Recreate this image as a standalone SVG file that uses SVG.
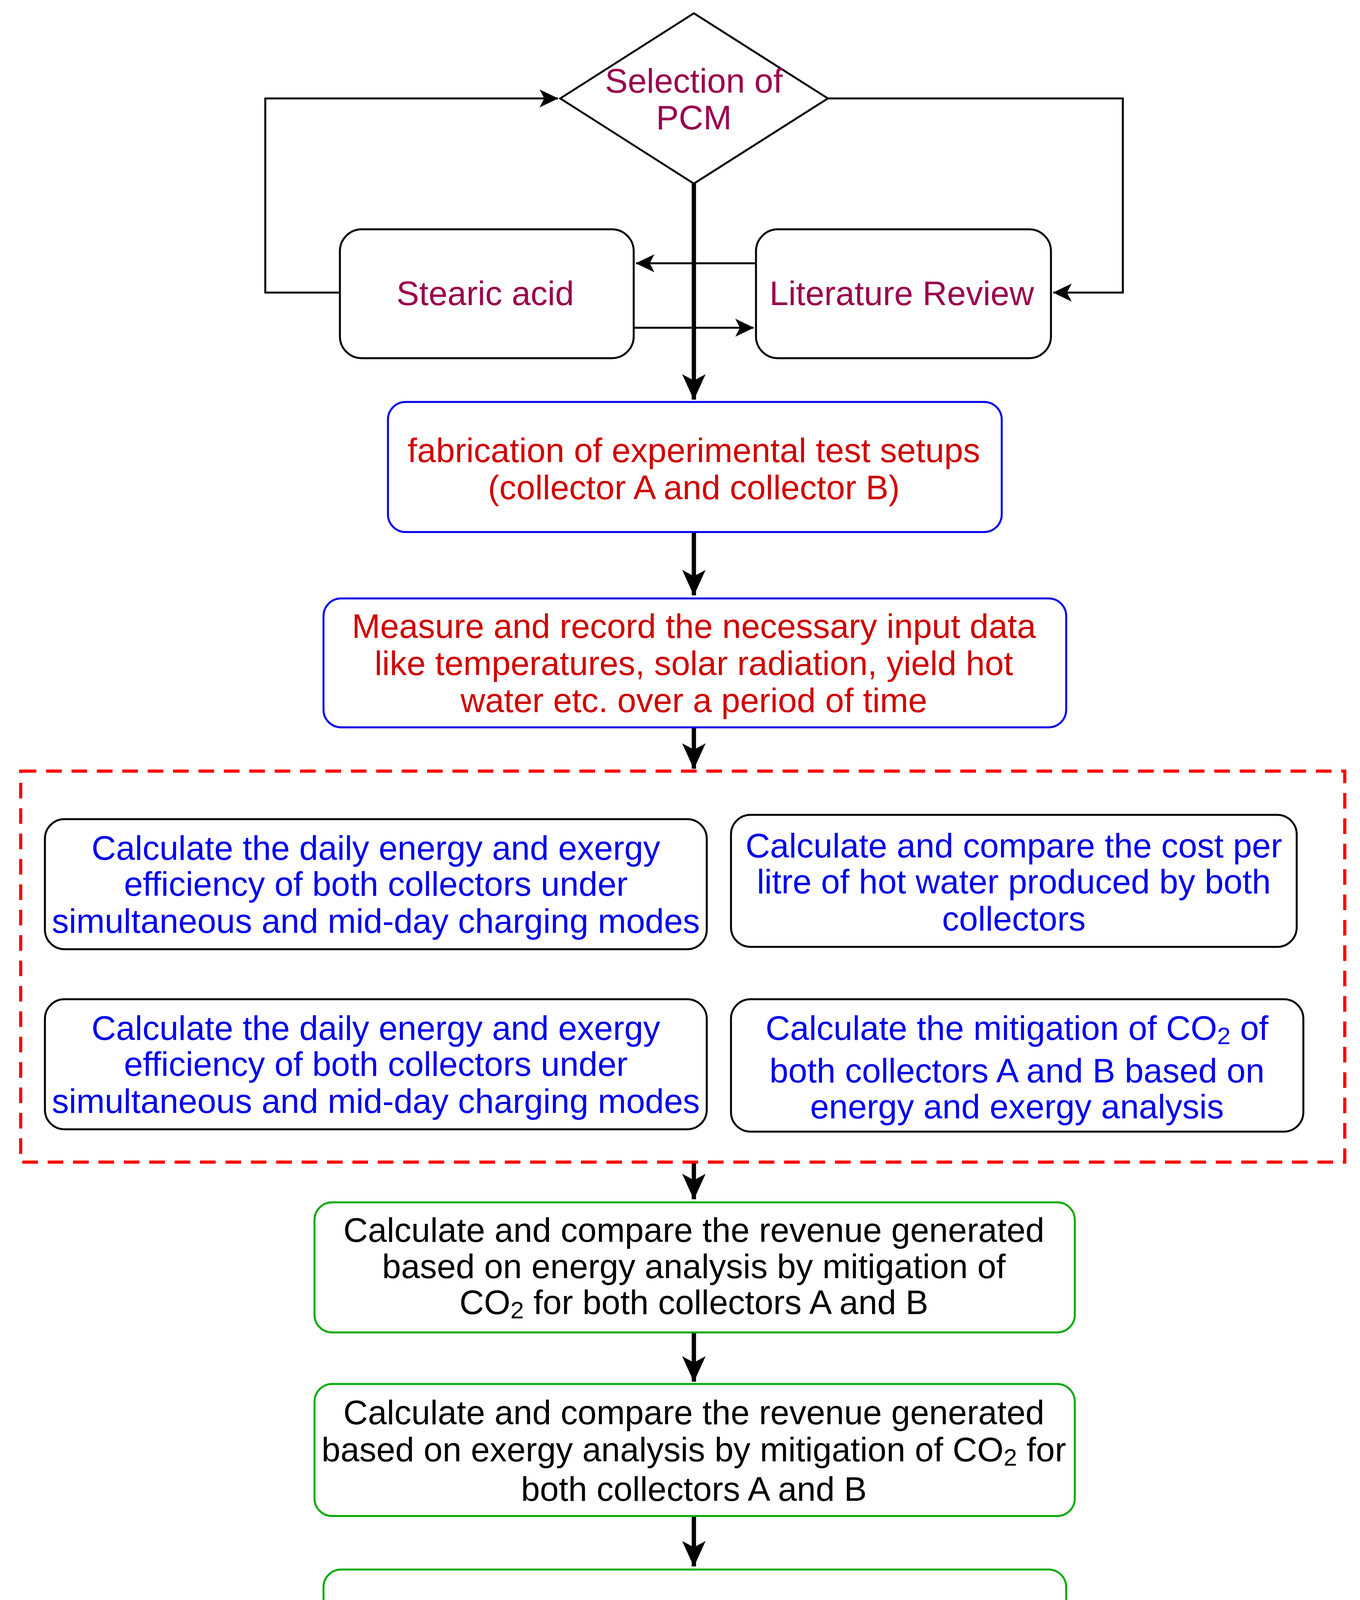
<svg xmlns="http://www.w3.org/2000/svg" width="3481" height="4370" viewBox="0 0 3481 4370">
<style>
text{font-family:"Liberation Sans",Arial,sans-serif;font-size:87px;text-anchor:middle;dominant-baseline:central}
.p{fill:#99004d}.r{fill:#d00000}.b{fill:#0000ee}.k{fill:#000}
.thin{stroke:#000;stroke-width:5;fill:none}
.thick{stroke:#000;stroke-width:11;fill:none}
.sub{font-size:62px}
</style>
<defs>
<marker id="a" viewBox="0 0 10 10" refX="9" refY="5" markerWidth="10" markerHeight="10" markerUnits="userSpaceOnUse" orient="auto" overflow="visible"><path d="M-38,-18 L10,5 L-38,28 L-26,5 Z"/></marker>
<marker id="t" viewBox="0 0 10 10" refX="9" refY="5" markerWidth="10" markerHeight="10" markerUnits="userSpaceOnUse" orient="auto" overflow="visible"><path d="M-56,-25 L10,5 L-56,35 L-40,5 Z"/></marker>
</defs>
<rect width="3481" height="4370" fill="#fff"/>
<g id="connectors">
<polyline class="thin" points="870,749 679,749 679,252 1428,252" marker-end="url(#a)"/>
<polyline class="thin" points="2119,252 2874,252 2874,749 2696,749" marker-end="url(#a)"/>
<line class="thin" x1="1935" y1="674" x2="1628" y2="674" marker-end="url(#a)"/>
<line class="thin" x1="1622" y1="839" x2="1929" y2="839" marker-end="url(#a)"/>
<line class="thick" x1="1776" y1="470" x2="1776" y2="1023" marker-end="url(#t)"/>
<line class="thick" x1="1776" y1="1362" x2="1776" y2="1524" marker-end="url(#t)"/>
<line class="thick" x1="1776" y1="1862" x2="1776" y2="1968" marker-end="url(#t)"/>
<line class="thick" x1="1776" y1="2975" x2="1776" y2="3070" marker-end="url(#t)"/>
<line class="thick" x1="1776" y1="3411" x2="1776" y2="3537" marker-end="url(#t)"/>
<line class="thick" x1="1776" y1="3881" x2="1776" y2="4010" marker-end="url(#t)"/>
</g>
<g id="pcm">
<polygon points="1776,34 2119,252 1776,470 1434,252" fill="#fff" stroke="#000" stroke-width="5"/>
<text class="p" x="1776" y="206">Selection of</text>
<text class="p" x="1776" y="300">PCM</text>
</g>
<g id="stearic"><rect x="870" y="587" width="752" height="330" rx="56" fill="#fff" stroke="#000" stroke-width="5"/><text class="p" x="1242" y="750">Stearic acid</text></g>
<g id="lit"><rect x="1935" y="587" width="755" height="330" rx="56" fill="#fff" stroke="#000" stroke-width="5"/><text class="p" x="2308" y="750">Literature Review</text></g>
<g id="fab"><rect x="993" y="1029" width="1571" height="333" rx="45" fill="#fff" stroke="#0000ee" stroke-width="5"/>
<text class="r" x="1776" y="1152">fabrication of experimental test setups</text>
<text class="r" x="1776" y="1247">(collector A and collector B)</text></g>
<g id="measure"><rect x="828" y="1532" width="1901" height="330" rx="45" fill="#fff" stroke="#0000ee" stroke-width="5"/>
<text class="r" x="1776" y="1602">Measure and record the necessary input data</text>
<text class="r" x="1776" y="1697">like temperatures, solar radiation, yield hot</text>
<text class="r" x="1776" y="1792">water etc. over a period of time</text></g>
<rect x="53" y="1974" width="3389" height="1001" fill="none" stroke="#ff0000" stroke-width="8" stroke-dasharray="40,25"/>
<g id="calc1"><rect x="115" y="2097" width="1694" height="333" rx="50" fill="#fff" stroke="#000" stroke-width="5"/>
<text class="b" x="962" y="2170">Calculate the daily energy and exergy</text>
<text class="b" x="962" y="2262">efficiency of both collectors under</text>
<text class="b" x="962" y="2357">simultaneous and mid-day charging modes</text></g>
<g id="calc2"><rect x="1871" y="2086" width="1448" height="338" rx="50" fill="#fff" stroke="#000" stroke-width="5"/>
<text class="b" x="2595" y="2164">Calculate and compare the cost per</text>
<text class="b" x="2595" y="2256">litre of hot water produced by both</text>
<text class="b" x="2595" y="2351">collectors</text></g>
<g id="calc3"><rect x="115" y="2558" width="1694" height="333" rx="50" fill="#fff" stroke="#000" stroke-width="5"/>
<text class="b" x="962" y="2631">Calculate the daily energy and exergy</text>
<text class="b" x="962" y="2723">efficiency of both collectors under</text>
<text class="b" x="962" y="2818">simultaneous and mid-day charging modes</text></g>
<g id="calc4"><rect x="1871" y="2558" width="1465" height="339" rx="50" fill="#fff" stroke="#000" stroke-width="5"/>
<text class="b" x="2603" y="2631">Calculate the mitigation of CO<tspan class="sub" dy="20">2</tspan><tspan dy="-20"> of</tspan></text>
<text class="b" x="2603" y="2740">both collectors A and B based on</text>
<text class="b" x="2603" y="2832">energy and exergy analysis</text></g>
<g id="rev1"><rect x="805" y="3078" width="1946" height="333" rx="45" fill="#fff" stroke="#00aa00" stroke-width="5"/>
<text class="k" x="1776" y="3148">Calculate and compare the revenue generated</text>
<text class="k" x="1776" y="3241">based on energy analysis by mitigation of</text>
<text class="k" x="1776" y="3333">CO<tspan class="sub" dy="20">2</tspan><tspan dy="-20"> for both collectors A and B</tspan></text></g>
<g id="rev2"><rect x="805" y="3543" width="1946" height="338" rx="45" fill="#fff" stroke="#00aa00" stroke-width="5"/>
<text class="k" x="1776" y="3615">Calculate and compare the revenue generated</text>
<text class="k" x="1776" y="3710">based on exergy analysis by mitigation of CO<tspan class="sub" dy="20">2</tspan><tspan dy="-20"> for</tspan></text>
<text class="k" x="1776" y="3811">both collectors A and B</text></g>
<g id="exergo"><rect x="828" y="4018" width="1901" height="330" rx="45" fill="#fff" stroke="#00aa00" stroke-width="5"/>
<text class="k" x="1776" y="4135">Perform the exergoeconomic analysis of both</text>
<text class="k" x="1776" y="4230">collectors A and B</text></g>
</svg>
